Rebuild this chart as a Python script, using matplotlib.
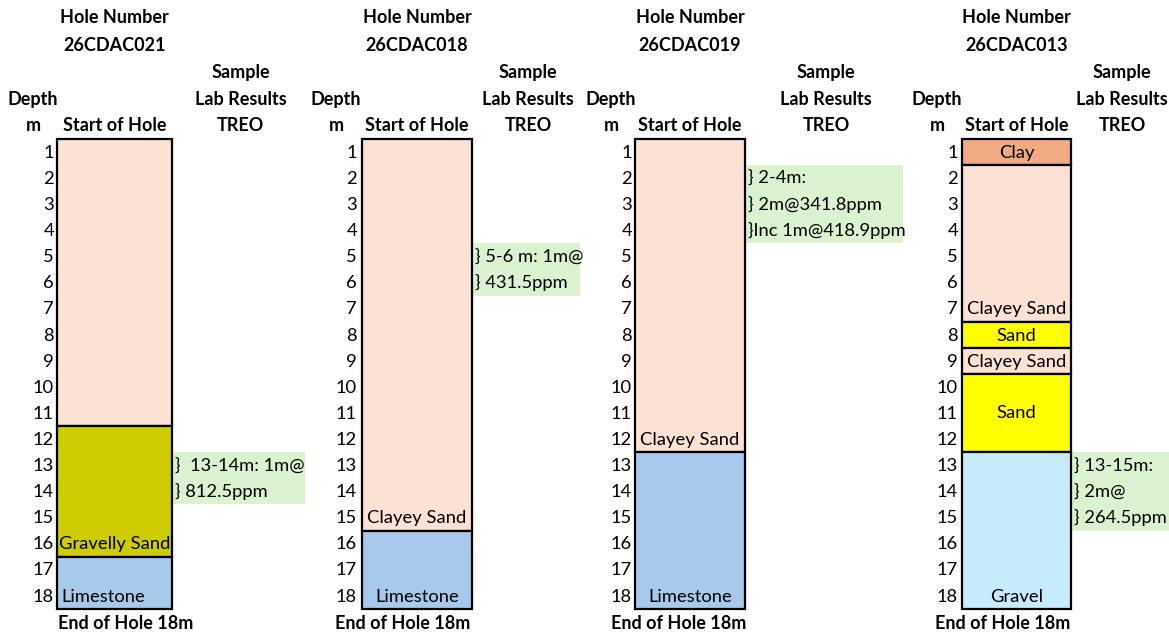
import matplotlib
matplotlib.use("Agg")
import matplotlib.pyplot as plt
from matplotlib.patches import Rectangle

plt.rcParams['font.family'] = ['Lato', 'DejaVu Sans']

holes = ['26CDAC021', '26CDAC018', '26CDAC019', '26CDAC013']
depths = list(range(1, 19))
end_depth = 18

# layers per hole: (from, to, name, label shown, h-align, label at bottom row or middle)
layers = [
    [(0, 11, 'Clayey Sand', '', 'center', 'bottom'),
     (11, 16, 'Gravelly Sand', 'Gravelly Sand', 'center', 'bottom'),
     (16, 18, 'Limestone', 'Limestone', 'left', 'bottom')],
    [(0, 15, 'Clayey Sand', 'Clayey Sand', 'center', 'bottom'),
     (15, 18, 'Limestone', 'Limestone', 'center', 'bottom')],
    [(0, 12, 'Clayey Sand', 'Clayey Sand', 'center', 'bottom'),
     (12, 18, 'Limestone', 'Limestone', 'center', 'bottom')],
    [(0, 1, 'Clay', 'Clay', 'center', 'bottom'),
     (1, 7, 'Clayey Sand', 'Clayey Sand', 'center', 'bottom'),
     (7, 8, 'Sand', 'Sand', 'center', 'bottom'),
     (8, 9, 'Clayey Sand', 'Clayey Sand', 'center', 'bottom'),
     (9, 12, 'Sand', 'Sand', 'center', 'middle'),
     (12, 18, 'Gravel', 'Gravel', 'center', 'bottom')],
]

# sample intervals and lab text lines
samples = [
    (12, ['}  13-14m: 1m@', '} 812.5ppm']),
    (4, ['} 5-6 m: 1m@', '} 431.5ppm']),
    (1, ['} 2-4m:', '} 2m@341.8ppm', '}Inc 1m@418.9ppm']),
    (12, ['} 13-15m:', '} 2m@', '} 264.5ppm']),
]

colors = {
    'Clayey Sand': '#FBE2D5',
    'Gravelly Sand': '#CCCC00',
    'Limestone': '#A6C9EC',
    'Clay': '#F1A983',
    'Sand': '#FFFF00',
    'Gravel': '#C6EBFA',
}
green = '#DAF2D0'

# layout in pixel columns: depth number right edge, box left/right, sample box right
cols = [(54, 57, 172, 305), (357, 362, 472, 580), (632, 635, 745, 903), (958, 962, 1071, 1169)]
end_x = [126, 403, 679, 1003]

fig = plt.figure(figsize=(11.69, 6.34), dpi=100)
ax = fig.add_axes([0, 0, 1, 1])
row_px = 26.1
top_px = 139
ax.set_xlim(0, 1169)
ax.set_ylim((634 - top_px) / row_px, -top_px / row_px)
ax.axis('off')

fs = 13.2
hfs = 13
hw = 'bold'
for h, hole in enumerate(holes):
    xn, x0, x1, xg = cols[h]
    xc = (x0 + x1) / 2
    xs = (x1 + xg) / 2 + 2
    xd = xn - 21

    ax.text(xc, -4.67, 'Hole Number', ha='center', va='center', fontsize=hfs, fontweight=hw)
    ax.text(xc, -3.6, hole, ha='center', va='center', fontsize=hfs, fontweight=hw)
    ax.text(xs, -2.53, 'Sample', ha='center', va='center', fontsize=hfs, fontweight=hw)
    ax.text(xs, -1.5, 'Lab Results', ha='center', va='center', fontsize=hfs, fontweight=hw)
    ax.text(xs, -0.5, 'TREO', ha='center', va='center', fontsize=hfs, fontweight=hw)
    ax.text(xd, -1.5, 'Depth', ha='center', va='center', fontsize=hfs, fontweight=hw)
    ax.text(xd, -0.5, 'm', ha='center', va='center', fontsize=hfs, fontweight=hw)
    ax.text(xc, -0.5, 'Start of Hole', ha='center', va='center', fontsize=hfs, fontweight=hw)
    ax.text(end_x[h], end_depth + 0.58, 'End of Hole %dm' % end_depth, ha='center', va='center',
            fontsize=hfs, fontweight=hw)

    for d in depths:
        ax.text(xn, d - 0.47, str(d), ha='right', va='center', fontsize=fs)

    for top, bot, name, label, align, vpos in layers[h]:
        ax.add_patch(Rectangle((x0, top), x1 - x0, bot - top, facecolor=colors[name],
                               edgecolor='black', linewidth=1.6, zorder=2))
        if label:
            tx = xc if align == 'center' else x0 + 4
            ty = bot - 0.47 if vpos == 'bottom' else (top + bot) / 2
            ax.text(tx, ty, label, ha=align, va='center', fontsize=fs, zorder=3)

    s_top, lines = samples[h]
    ax.add_patch(Rectangle((x1 + 1, s_top), xg - x1 - 1, len(lines), facecolor=green,
                           edgecolor='none', zorder=1))
    for i, line in enumerate(lines):
        ax.text(x1 + 3, s_top + i + 0.5, line, ha='left', va='center', fontsize=fs, zorder=3)

fig.savefig('out.png', dpi=100)
